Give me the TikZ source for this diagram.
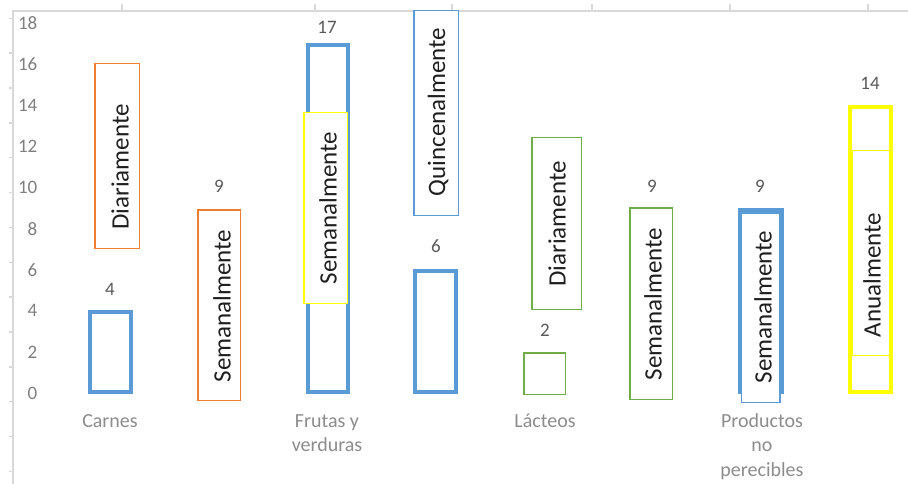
\documentclass[tikz,border=0pt]{standalone}
\usepackage{fontspec}
\setmainfont{Carlito}
\definecolor{xblue}{HTML}{5B9BD5}
\definecolor{xorange}{HTML}{ED7D31}
\definecolor{xgreen}{HTML}{70AD47}
\definecolor{xyellow}{HTML}{FFFF00}
\definecolor{gridgray}{HTML}{D9D9D9}
\definecolor{axistext}{HTML}{7F7F7F}
\definecolor{valtext}{HTML}{595959}
\definecolor{cattext}{HTML}{8C8C8C}
\definecolor{boxtext}{HTML}{1F1F1F}

\begin{document}
\begin{tikzpicture}[x=1pt,y=-1pt,
  thickbar/.style={draw=#1, line width=4pt, outer sep=0pt, inner sep=0pt},
  thinbar/.style={draw=#1, line width=1.5pt, outer sep=0pt, inner sep=0pt},
  labelbox/.style={draw=#1, fill=white, line width=1.5pt, outer sep=0pt, inner sep=0pt},
  boxlabel/.style={rotate=90, inner sep=0pt, text=boxtext, font=\fontsize{25}{30}\selectfont},
  vallabel/.style={inner sep=0pt, text=valtext, font=\fontsize{19}{23}\selectfont},
  ticklabel/.style={anchor=east, inner sep=0pt, text=axistext, font=\fontsize{19}{23}\selectfont},
  catlabel/.style={anchor=north, align=center, inner sep=0pt, text=cattext, font=\fontsize{20}{24.5}\selectfont},
  gridline/.style={draw=gridgray, line width=1.5pt}
]
\useasboundingbox (0,0) rectangle (908,484);

% frame lines and tick marks
\draw[gridline] (13,484) -- (13,11) -- (908,11);
\foreach \tx in {122,315,452,592,730,868}
  \draw[gridline] (\tx,4) -- (\tx,11);
\foreach \k in {0,...,13}
  \draw[gridline] (9,18.3+34.85*\k) -- (13,18.3+34.85*\k);

% value axis numbers
\foreach \v in {0,2,...,18}
  \node[ticklabel] (tick\v) at (37.5,393-20.55*\v) {\v};

% Carnes
\node[thickbar=xblue, minimum width=41pt, minimum height=80pt] (carnesbar) at (110.5,352) {};
\node[vallabel] (carnesval) at (110,289) {4};
\node[labelbox=xorange, minimum width=44.5pt, minimum height=184.5pt] (carnesdiar) at (117,156) {};
\node[boxlabel] (carnesdiartxt) at (120,167) {Diariamente};
\node[labelbox=xorange, minimum width=42.5pt, minimum height=190.5pt] (carnessem) at (219,305) {};
\node[boxlabel] (carnessemtxt) at (222,306) {Semanalmente};
\node[vallabel] (carnessemval) at (219,186) {9};

% Frutas y verduras
\node[thickbar=xblue, minimum width=40pt, minimum height=347pt] (frutasbar) at (327.5,218.5) {};
\node[vallabel] (frutasval) at (327,27) {17};
\node[labelbox=xyellow, minimum width=43.5pt, minimum height=190.5pt] (frutassem) at (325.5,208) {};
\node[boxlabel] (frutassemtxt) at (328,208) {Semanalmente};
\node[thickbar=xblue, minimum width=41pt, minimum height=121pt] (frutasquinbar) at (435.5,331.5) {};
\node[vallabel] (frutasquinval) at (436,246) {6};
\node[labelbox=xblue, minimum width=44.5pt, minimum height=204.5pt] (frutasquin) at (436,113) {};
\node[boxlabel] (frutasquintxt) at (438,112) {Quincenalmente};

% Lácteos
\node[thinbar=xgreen, minimum width=41.5pt, minimum height=41.5pt] (lactbar) at (544.5,373.5) {};
\node[vallabel] (lactval) at (545,330) {2};
\node[labelbox=xgreen, minimum width=49.5pt, minimum height=171.5pt] (lactdiar) at (556.5,223.5) {};
\node[boxlabel] (lactdiartxt) at (557,224) {Diariamente};
\node[labelbox=xgreen, minimum width=42.5pt, minimum height=191.5pt] (lactsem) at (651,303.5) {};
\node[boxlabel] (lactsemtxt) at (653,304) {Semanalmente};
\node[vallabel] (lactsemval) at (652,186) {9};

% Productos no perecibles
\node[thickbar=xblue, minimum width=42pt, minimum height=182.5pt] (prodbar) at (761,300.75) {};
\node[vallabel] (prodval) at (760,186) {9};
\node[labelbox=xblue, minimum width=38.5pt, minimum height=189.5pt] (prodsem) at (760.5,307.5) {};
\node[boxlabel] (prodsemtxt) at (763,307) {Semanalmente};
\node[thickbar=xyellow, minimum width=41pt, minimum height=285pt] (prodanbar) at (870.5,249.5) {};
\node[vallabel] (prodanval) at (870,83) {14};
\node[labelbox=xyellow, minimum width=37.5pt, minimum height=204.5pt] (prodan) at (870.5,253) {};
\node[boxlabel] (prodantxt) at (872,275) {Anualmente};

% category names
\node[catlabel] (catcarnes) at (110,411) {\rule{0pt}{16pt}Carnes};
\node[catlabel] (catfrutas) at (327,411) {\rule{0pt}{16pt}Frutas y\\verduras};
\node[catlabel] (catlact) at (545,411) {\rule{0pt}{16pt}Lácteos};
\node[catlabel] (catprod) at (762,411) {\rule{0pt}{16pt}Productos\\no\\perecibles};
\end{tikzpicture}
\end{document}
